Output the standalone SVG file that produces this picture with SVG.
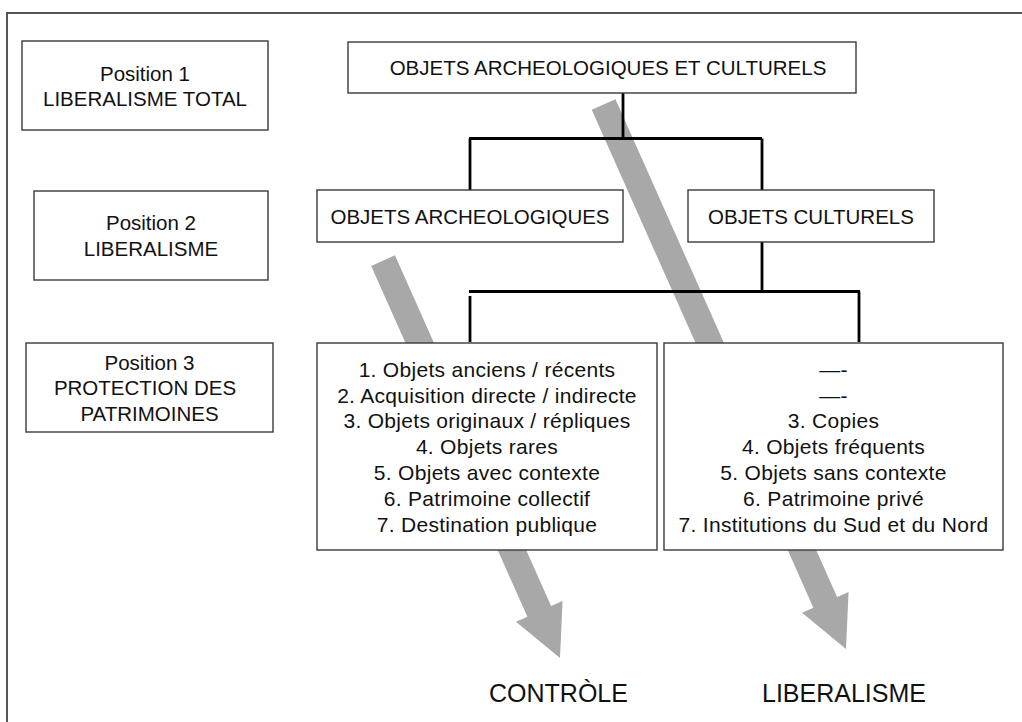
<svg xmlns="http://www.w3.org/2000/svg" width="1022" height="722" viewBox="0 0 1022 722">
<style>
.box{fill:#fff;stroke:#3a3a3a;stroke-width:1.4}
.t{font-family:"Liberation Sans",Arial,Helvetica,sans-serif;font-size:20.5px;fill:#111;text-anchor:middle}
.li{font-size:21px;letter-spacing:0.3px}
.lbl{font-size:25px}
.c{stroke:#000;stroke-width:2.8;fill:none}
.arr{fill:#a8a8a8}
</style>
<rect width="1022" height="722" fill="#fff"/>
<path d="M7,722 V13 H1022" fill="none" stroke="#555" stroke-width="2"/>
<g id="arrows">
<path class="arr" transform="translate(560,658) rotate(-24)" d="M-13,-435 L13,-435 L13,-51 L25.5,-51 L0,0 L-25.5,-51 L-13,-51 Z"/>
<path class="arr" transform="translate(846,649) rotate(-24)" d="M-13,-596 L13,-596 L13,-51 L25.5,-51 L0,0 L-25.5,-51 L-13,-51 Z"/>
</g>
<g id="connectors">
<path class="c" d="M623,93 V138.5"/>
<path class="c" d="M469,138.5 H762"/>
<path class="c" d="M470,138.5 V190"/>
<path class="c" d="M762,138.5 V190"/>
<path class="c" d="M762,242 V291.5"/>
<path class="c" d="M469,291.5 H860"/>
<path class="c" d="M470,296 V342"/>
<path class="c" d="M859,291.5 V342"/>
</g>
<g id="pos1">
<rect class="box" x="22" y="41" width="246" height="89"/>
<text class="t" x="145" y="81">Position 1</text>
<text class="t" x="145" y="106">LIBERALISME TOTAL</text>
</g>
<g id="pos2">
<rect class="box" x="34" y="191" width="234" height="89"/>
<text class="t" x="151" y="230">Position 2</text>
<text class="t" x="151" y="256">LIBERALISME</text>
</g>
<g id="pos3">
<rect class="box" x="26" y="343" width="247" height="89"/>
<text class="t" x="149.5" y="370">Position 3</text>
<text class="t" x="145" y="395">PROTECTION DES</text>
<text class="t" x="149.5" y="421">PATRIMOINES</text>
</g>
<g id="root">
<rect class="box" x="348" y="42" width="508" height="51"/>
<text class="t" x="608" y="75">OBJETS ARCHEOLOGIQUES ET CULTURELS</text>
</g>
<g id="archeo">
<rect class="box" x="317" y="190" width="306" height="52"/>
<text class="t" x="470" y="224">OBJETS ARCHEOLOGIQUES</text>
</g>
<g id="cult">
<rect class="box" x="688" y="190" width="246" height="52"/>
<text class="t" x="811" y="224">OBJETS CULTURELS</text>
</g>
<g id="listLeft">
<rect class="box" x="317" y="343" width="340" height="207"/>
<text class="t li" x="487" y="376.7">1. Objets anciens / récents</text>
<text class="t li" x="487" y="402.5">2. Acquisition directe / indirecte</text>
<text class="t li" x="487" y="428.3">3. Objets originaux / répliques</text>
<text class="t li" x="487" y="454.2">4. Objets rares</text>
<text class="t li" x="487" y="480">5. Objets avec contexte</text>
<text class="t li" x="487" y="505.8">6. Patrimoine collectif</text>
<text class="t li" x="487" y="531.7">7. Destination publique</text>
</g>
<g id="listRight">
<rect class="box" x="664" y="343" width="339" height="207"/>
<text class="t li" x="833.5" y="376.7">—-</text>
<text class="t li" x="833.5" y="402.5">—-</text>
<text class="t li" x="833.5" y="428.3">3. Copies</text>
<text class="t li" x="833.5" y="454.2">4. Objets fréquents</text>
<text class="t li" x="833.5" y="480">5. Objets sans contexte</text>
<text class="t li" x="833.5" y="505.8">6. Patrimoine privé</text>
<text class="t li" x="833.5" y="531.7">7. Institutions du Sud et du Nord</text>
</g>
<g id="controle">
<text class="t lbl" x="558.5" y="702">CONTRÒLE</text>
</g>
<g id="liberalisme">
<text class="t lbl" x="844" y="702">LIBERALISME</text>
</g>
</svg>
